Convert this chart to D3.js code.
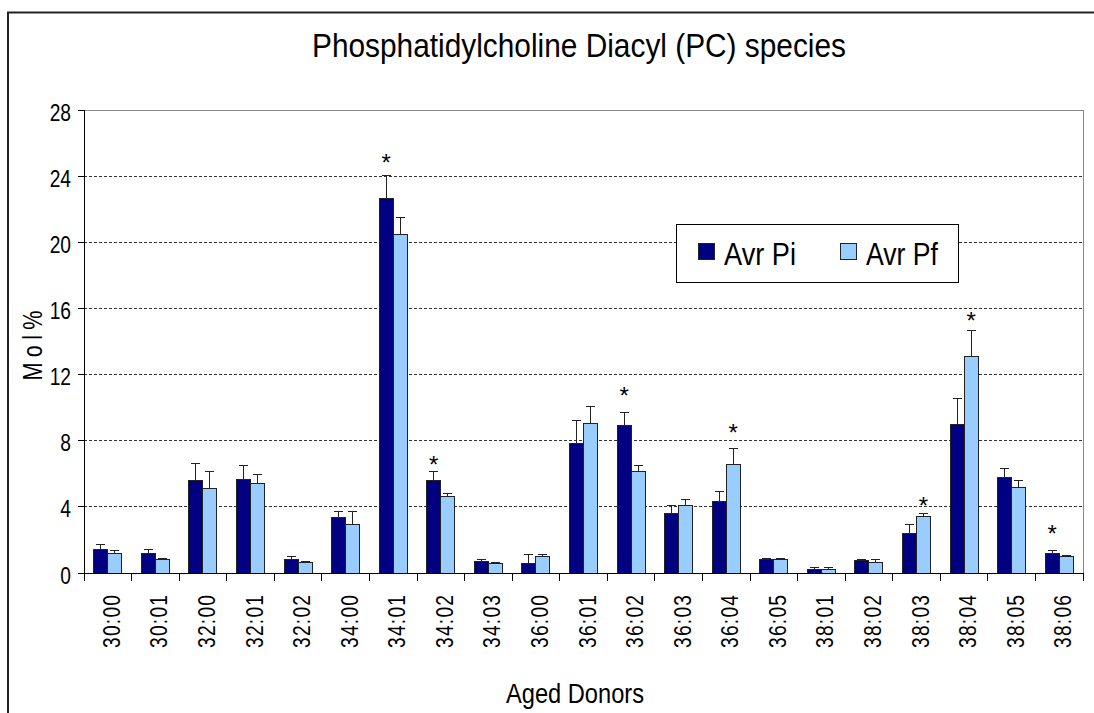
<!DOCTYPE html>
<html>
<head>
<meta charset="utf-8">
<script src="https://cdn.jsdelivr.net/npm/d3@7"></script>
<style>
	body{margin:0;background:#fff;}
	svg{display:block;}
	text{font-family:'Liberation Sans Narrow','Arial Narrow','Liberation Sans',sans-serif;fill:#000;}
</style>
</head>
<body>
<div id="plot"></div>
<script>
//Chart data
var categories = ['30:00','30:01','32:00','32:01','32:02','34:00','34:01','34:02','34:03','36:00','36:01','36:02','36:03','36:04','36:05','38:01','38:02','38:03','38:04','38:05','38:06'];
var seriesNames = ['Avr Pi','Avr Pf'];
var avrPi = [1.45,1.19,5.58,5.66,0.79,3.33,22.63,5.58,0.71,0.60,7.86,8.95,3.61,4.35,0.83,0.24,0.73,2.40,8.97,5.76,1.19];
var avrPiErr = [0.28,0.26,1.05,0.85,0.20,0.38,1.41,0.57,0.08,0.49,1.37,0.76,0.46,0.59,0.06,0.10,0.10,0.56,1.61,0.57,0.18];
var avrPf = [1.17,0.79,5.12,5.40,0.62,2.96,20.48,4.64,0.60,0.99,9.05,6.15,4.07,6.59,0.83,0.24,0.62,3.43,13.08,5.20,1.01];
var avrPfErr = [0.20,0.10,1.03,0.55,0.06,0.75,1.02,0.18,0.02,0.10,1.03,0.36,0.38,0.95,0.06,0.10,0.21,0.18,1.57,0.40,0.02];
var yTicks = [0,4,8,12,16,20,24,28];
//significance marks: category, series it sits over, height in Mol%
var starCats = ['34:01','34:02','36:02','36:04','38:03','38:04','38:06'];
var starSeries = [0,0,0,1,1,1,0];
var starY = [25.15,6.9,11.06,8.83,4.41,15.6,2.72];

var colors = ['#000080','#99ccff'];

var W = 1094, H = 713;
var plot = {l:84, r:1083, t:110, b:573};
var narrow = 0.8; //horizontal squeeze to mimic the condensed face

var svg = d3.select('#plot').append('svg')
	.attr('width',W).attr('height',H);

var x = d3.scaleBand()
	.domain(categories)
	.range([plot.l,plot.r])
	.paddingInner(0).paddingOuter(0);

var xs = d3.scaleBand()
	.domain([0,1])
	.range([0,x.bandwidth()])
	.paddingInner(0).paddingOuter(0.7);

var y = d3.scaleLinear()
	.domain([0,28])
	.range([plot.b,plot.t]);

var rows = categories.map(function(c,i){
	return [
		{cat:c, s:0, v:avrPi[i], e:avrPiErr[i]},
		{cat:c, s:1, v:avrPf[i], e:avrPfErr[i]}
	];
});

//outer chart frame (cropped at right and bottom)
svg.append('path')
	.attr('d','M8,'+H+'V12.5H'+W)
	.style('fill','none').style('stroke','#222').style('stroke-width',2);

//title
svg.append('text')
	.attr('x',579).attr('y',57)
	.attr('text-anchor','middle')
	.attr('textLength',534).attr('lengthAdjust','spacingAndGlyphs')
	.style('font-size','33px')
	.text('Phosphatidylcholine Diacyl (PC) species');

//gridlines
svg.append('g').selectAll('line')
	.data(yTicks.filter(function(d){return d>0 && d<28}))
	.enter().append('line')
	.attr('x1',plot.l).attr('x2',plot.r)
	.attr('y1',function(d){return y(d)}).attr('y2',function(d){return y(d)})
	.style('stroke','#333').style('stroke-width',1).style('stroke-dasharray','3,2')
	.attr('shape-rendering','crispEdges');

//plot area border
svg.append('path')
	.attr('d','M'+plot.l+','+y(28)+'H'+plot.r+'V'+plot.b)
	.style('fill','none').style('stroke','#888').style('stroke-width',1)
	.attr('shape-rendering','crispEdges');

//bars
var groups = svg.append('g').selectAll('g')
	.data(rows)
	.enter().append('g')
	.attr('transform',function(d){return 'translate('+x(d[0].cat)+',0)'});

groups.selectAll('rect')
	.data(function(d){return d})
	.enter().append('rect')
	.attr('x',function(d){return xs(d.s)})
	.attr('width',xs.bandwidth())
	.attr('y',function(d){return y(d.v)})
	.attr('height',function(d){return y(0)-y(d.v)})
	.style('fill',function(d){return colors[d.s]})
	.style('stroke','#222').style('stroke-width',1)
	.attr('shape-rendering','crispEdges');

//error bars, upper side only
var err = groups.selectAll('g.err')
	.data(function(d){return d})
	.enter().append('g').attr('class','err');

err.append('line')
	.attr('x1',function(d){return xs(d.s)+xs.bandwidth()/2})
	.attr('x2',function(d){return xs(d.s)+xs.bandwidth()/2})
	.attr('y1',function(d){return y(d.v)})
	.attr('y2',function(d){return y(d.v+d.e)});
err.append('line')
	.attr('x1',function(d){return xs(d.s)+xs.bandwidth()/2-4.5})
	.attr('x2',function(d){return xs(d.s)+xs.bandwidth()/2+4.5})
	.attr('y1',function(d){return y(d.v+d.e)})
	.attr('y2',function(d){return y(d.v+d.e)});
err.selectAll('line')
	.style('stroke','#222').style('stroke-width',1)
	.attr('shape-rendering','crispEdges');

//asterisks
svg.append('g').selectAll('text')
	.data(starCats)
	.enter().append('text')
	.attr('x',function(d,i){return x(d)+xs(starSeries[i])+xs.bandwidth()/2})
	.attr('y',function(d,i){return y(starY[i])})
	.attr('dy','0.58em')
	.attr('text-anchor','middle')
	.style('font-family',"'Liberation Sans',Arial,sans-serif")
	.style('font-size','24px')
	.text('*');

//y axis
var yAxis = svg.append('g');
yAxis.append('line')
	.attr('x1',plot.l).attr('x2',plot.l)
	.attr('y1',plot.t).attr('y2',plot.b)
	.style('stroke','#000').attr('shape-rendering','crispEdges');
yAxis.selectAll('line.tick')
	.data(yTicks)
	.enter().append('line').attr('class','tick')
	.attr('x1',plot.l-6).attr('x2',plot.l)
	.attr('y1',function(d){return y(d)}).attr('y2',function(d){return y(d)})
	.style('stroke','#000').attr('shape-rendering','crispEdges');
yAxis.selectAll('text')
	.data(yTicks)
	.enter().append('text')
	.attr('transform',function(d){return 'translate(71,'+y(d)+') scale('+narrow+',1)'})
	.attr('dy','0.44em')
	.attr('text-anchor','end')
	.style('font-size','24px')
	.text(function(d){return d});

//x axis
var xAxis = svg.append('g');
xAxis.append('line')
	.attr('x1',plot.l).attr('x2',plot.r)
	.attr('y1',plot.b).attr('y2',plot.b)
	.style('stroke','#000').attr('shape-rendering','crispEdges');
xAxis.selectAll('line.tick')
	.data(d3.range(categories.length+1))
	.enter().append('line').attr('class','tick')
	.attr('x1',function(d){return plot.l+d*x.step()})
	.attr('x2',function(d){return plot.l+d*x.step()})
	.attr('y1',plot.b).attr('y2',plot.b+8)
	.style('stroke','#000').attr('shape-rendering','crispEdges');
xAxis.selectAll('text')
	.data(categories)
	.enter().append('text')
	.attr('transform',function(d){return 'translate('+(x(d)+x.bandwidth()/2+12)+','+(plot.b+22)+') rotate(-90) scale('+narrow+',1)'})
	.attr('text-anchor','end')
	.attr('textLength',53/narrow).attr('lengthAdjust','spacing')
	.style('font-size','24px')
	.text(function(d){return d});

//axis titles
svg.append('text')
	.attr('transform','translate(42,'+((plot.t+plot.b)/2+4)+') rotate(-90) scale('+narrow+',1)')
	.attr('text-anchor','middle')
	.attr('textLength',70/narrow).attr('lengthAdjust','spacing')
	.style('font-size','27px')
	.text('Mol%');

svg.append('text')
	.attr('x',575).attr('y',703)
	.attr('text-anchor','middle')
	.attr('textLength',138).attr('lengthAdjust','spacingAndGlyphs')
	.style('font-size','28px')
	.text('Aged Donors');

//legend
var legend = svg.append('g');
legend.append('rect')
	.attr('x',676.5).attr('y',224.5).attr('width',282).attr('height',58)
	.style('fill','#fff').style('stroke','#000').style('stroke-width',1);
var legendX = [698,840];
var item = legend.selectAll('g.item')
	.data(seriesNames)
	.enter().append('g').attr('class','item')
	.attr('transform',function(d,i){return 'translate('+legendX[i]+',243)'});
item.append('rect')
	.attr('x',0.5).attr('y',0.5).attr('width',16).attr('height',16)
	.style('fill',function(d,i){return colors[i]})
	.style('stroke','#222').style('stroke-width',1);
item.append('text')
	.attr('x',26).attr('y',22)
	.attr('textLength',72).attr('lengthAdjust','spacingAndGlyphs')
	.style('font-size','32px')
	.text(function(d){return d});
</script>
</body>
</html>
